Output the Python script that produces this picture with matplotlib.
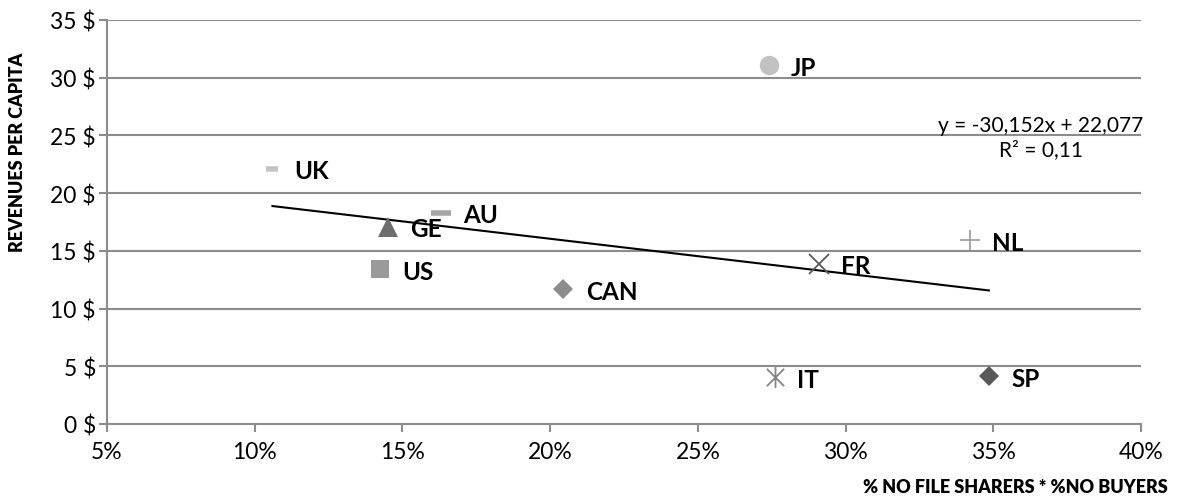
import numpy as np
import matplotlib
matplotlib.use("Agg")
import matplotlib.pyplot as plt
from matplotlib.path import Path
from matplotlib.ticker import FuncFormatter

plt.rcParams['font.family'] = ['Lato', 'DejaVu Sans']

# data
countries = ["UK", "AU", "GE", "US", "CAN", "JP", "FR", "NL", "IT", "SP"]
no_share_no_buy = [10.6, 16.3, 14.5, 14.25, 20.45, 27.4, 29.1, 34.2, 27.6, 34.85]  # %
revenue = [22.1, 18.3, 17.1, 13.4, 11.7, 31.1, 13.9, 15.9, 4.05, 4.15]  # $
slope, intercept, r2 = -30.152, 22.077, 0.11

# excel-like asterisk marker (vertical + x)
star = Path([(-1, -1), (1, 1), (-1, 1), (1, -1), (0, -1.2), (0, 1.2)],
            [Path.MOVETO, Path.LINETO, Path.MOVETO, Path.LINETO, Path.MOVETO, Path.LINETO])

styles = {
    "UK":  dict(marker="_", ms=9, mew=4, color="#c4c4c4"),
    "AU":  dict(marker="_", ms=15, mew=4, color="#a6a6a6"),
    "GE":  dict(marker="^", ms=14, mew=0, color="#6e6e6e"),
    "US":  dict(marker="s", ms=13, mew=0, color="#9a9a9a"),
    "CAN": dict(marker="D", ms=10, mew=0, color="#8c8c8c"),
    "JP":  dict(marker="o", ms=14, mew=0, color="#c2c2c2"),
    "FR":  dict(marker="x", ms=14, mew=1.3, color="#595959"),
    "NL":  dict(marker="+", ms=14, mew=1.2, color="#9a9a9a"),
    "IT":  dict(marker=star, ms=15, mew=1.3, color="#858585"),
    "SP":  dict(marker="D", ms=10, mew=0, color="#595959"),
}

fig = plt.figure(figsize=(11.84, 5.02), dpi=100)
ax = fig.add_axes([0.0904, 0.1534, 0.8733, 0.8048])

grid_c = "#8c8c8c"
ax.set_xlim(0.05, 0.40)
ax.set_ylim(0, 35)
ax.set_xticks(np.arange(0.05, 0.401, 0.05))
ax.set_yticks(np.arange(0, 36, 5))
ax.xaxis.set_major_formatter(FuncFormatter(lambda v, p: f"{v*100:.0f}%"))
ax.yaxis.set_major_formatter(FuncFormatter(lambda v, p: f"{v:.0f} $"))
ax.grid(axis="y", color=grid_c, lw=1.5)
ax.set_axisbelow(True)
for s in ["top", "right"]:
    ax.spines[s].set_visible(False)
for s in ["left", "bottom"]:
    ax.spines[s].set_color(grid_c)
    ax.spines[s].set_linewidth(1.5)
ax.tick_params(axis="both", colors=grid_c, width=1.5, length=6, labelsize=16.5,
               labelcolor="black")
ax.tick_params(axis="x", pad=6)
ax.tick_params(axis="y", pad=2)

# trend line over the data range
x0, x1 = min(no_share_no_buy) / 100, max(no_share_no_buy) / 100
ax.plot([x0, x1], [slope * x0 + intercept, slope * x1 + intercept], color="black", lw=1.5, zorder=3)

for c, xv, yv in zip(countries, no_share_no_buy, revenue):
    st = styles[c]
    ax.plot(xv / 100, yv, linestyle="none", marker=st["marker"], markersize=st["ms"],
            markeredgewidth=st["mew"], color=st["color"], zorder=4)
    ax.annotate(c, (xv / 100, yv), xytext=(16, -1.5), textcoords="offset points",
                ha="left", va="center", fontsize=17.5, fontweight="bold", zorder=5)

eq = f"y = {slope:.3f}x + {intercept:.3f}".replace(".", ",")
ax.text(0.366, 24.85, eq + "\n" + f"R² = {r2:.2f}".replace(".", ","), ha="center", va="center",
        fontsize=15, linespacing=1.3, multialignment="center")

fig.text(18 / 1184, 1 - 152 / 502, "REVENUES PER CAPITA", rotation=90, ha="center", va="center",
         fontsize=13, fontweight="heavy")
fig.text(1168 / 1184, 1 - 488 / 502, "% NO FILE SHARERS * %NO BUYERS", ha="right", va="center",
         fontsize=13, fontweight="heavy")

fig.savefig("out.png", dpi=100)
